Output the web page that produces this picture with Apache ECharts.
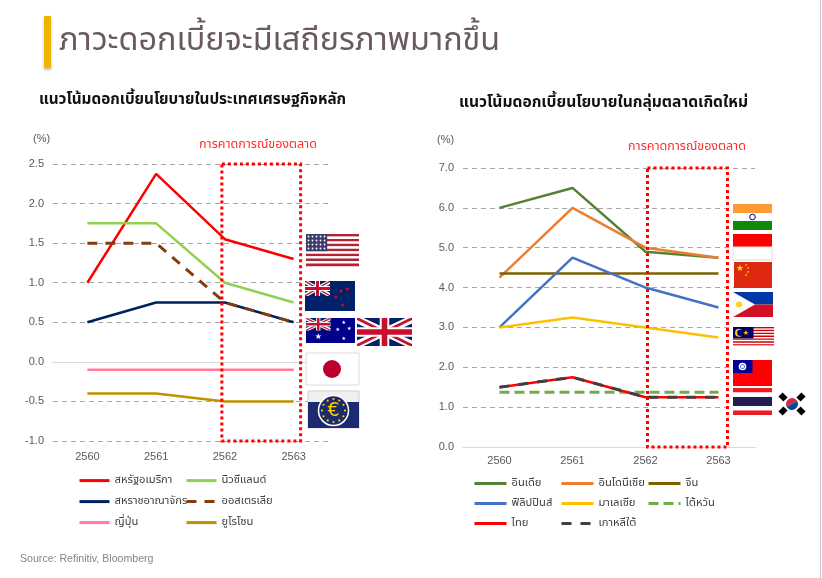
<!DOCTYPE html>
<html lang="th">
<head>
<meta charset="UTF-8">
<title>ภาวะดอกเบี้ยจะมีเสถียรภาพมากขึ้น</title>
<script src="https://cdn.jsdelivr.net/npm/echarts@6/dist/echarts.min.js"></script>
<style>body{margin:0;background:#fff}</style>
</head>
<body>
<div id="main" style="width:822px;height:578px;"></div>
<script type="text/javascript">

    const FONT = "'Noto Sans Thai', 'Noto Sans', Tahoma, sans-serif";

    // years (Thai Buddhist era)
    const years = ['2560', '2561', '2562', '2563'];

    // left chart: major economies
    const usRate = [1.0, 2.375, 1.55, 1.3];
    const nzRate = [1.75, 1.75, 1.0, 0.75];
    const ukRate = [0.5, 0.75, 0.75, 0.5];
    const auRate = [1.5, 1.5, 0.75, 0.5];
    const jpRate = [-0.1, -0.1, -0.1, -0.1];
    const euRate = [-0.4, -0.4, -0.5, -0.5];

    // right chart: emerging markets
    const inRate = [6.0, 6.5, 4.9, 4.75];
    const idRate = [4.25, 6.0, 5.0, 4.75];
    const cnRate = [4.35, 4.35, 4.35, 4.35];
    const phRate = [3.0, 4.75, 4.0, 3.5];
    const myRate = [3.0, 3.25, 3.0, 2.75];
    const twRate = [1.375, 1.375, 1.375, 1.375];
    const thRate = [1.5, 1.75, 1.25, 1.25];
    const krRate = [1.5, 1.75, 1.25, 1.25];

    const leftTicks = [-1, -0.5, 0, 0.5, 1, 1.5, 2, 2.5];
    const rightTicks = [0, 1, 2, 3, 4, 5, 6, 7];

    var myChart = echarts.init(document.getElementById('main'));

    function lineSeries(name, data, color, idx, dash, width, z) {
        return {
            name: name, type: 'line', data: data,
            xAxisIndex: idx, yAxisIndex: idx,
            symbol: 'none', animation: false, z: z || 2,
            lineStyle: { color: color, width: width || 2.5, type: dash || 'solid' },
            itemStyle: { color: color }
        };
    }

    function xAxis(idx, margin) {
        return {
            gridIndex: idx, type: 'category', data: years,
            axisLine: { lineStyle: { color: '#d9d9d9', width: 1 } },
            axisTick: { show: false },
            axisLabel: { color: '#595959', fontSize: 11, margin: margin, fontFamily: 'Liberation Sans' }
        };
    }

    function yAxis(idx, ticks, interval) {
        // the zero line is drawn by the x axis, so its dashed split line is hidden
        const colors = ticks.map(t => t === 0 ? 'rgba(0,0,0,0)' : '#a6a6a6');
        return {
            gridIndex: idx, type: 'value',
            min: ticks[0], max: ticks[ticks.length - 1], interval: interval,
            axisLine: { show: false }, axisTick: { show: false },
            axisLabel: { color: '#595959', fontSize: 11, margin: 9, fontFamily: 'Liberation Sans',
                formatter: v => v.toFixed(1) },
            splitLine: { lineStyle: { color: colors, type: [5, 4], width: 1.2 } }
        };
    }

    // one legend per entry so the columns line up as in the slide
    function legendItem(name, left, top, iw) {
        return {
            left: left, top: top, padding: 0,
            itemWidth: iw, itemHeight: 14, selectedMode: false,
            itemStyle: { opacity: 0 },
            lineStyle: { width: 3 },
            data: [name],
            textStyle: { color: '#404040', fontSize: 11.2, fontFamily: FONT }
        };
    }

    const L = ['สหรัฐอเมริกา', 'นิวซีแลนด์', 'สหราชอาณาจักร', 'ออสเตรเลีย', 'ญี่ปุ่น', 'ยูโรโซน'];
    const R = ['อินเดีย', 'อินโดนีเซีย', 'จีน', 'ฟิลิปปินส์', 'มาเลเซีย', 'ไต้หวัน', 'ไทย', 'เกาหลีใต้'];

    const legends = [];
    L.forEach((n, i) => legends.push(legendItem(n, i % 2 ? 185 : 78, 475 + Math.floor(i / 2) * 21, 30)));
    R.forEach((n, i) => legends.push(legendItem(n, [473, 560, 647][i % 3], 478 + Math.floor(i / 3) * 20, 32)));

    var option = {
        animation: false,
        grid: [
            { left: 53, top: 164, width: 275, height: 277 },
            { left: 463, top: 168, width: 292, height: 279 }
        ],
        xAxis: [xAxis(0, 10), xAxis(1, 8)],
        yAxis: [yAxis(0, leftTicks, 0.5), yAxis(1, rightTicks, 1)],
        legend: legends,
        series: [
            lineSeries(L[0], usRate, '#ff0000', 0),
            lineSeries(L[1], nzRate, '#92d050', 0),
            lineSeries(L[2], ukRate, '#002060', 0),
            lineSeries(L[3], auRate, '#843c0c', 0, [10, 8], 3, 3),
            lineSeries(L[4], jpRate, '#ff7c9c', 0),
            lineSeries(L[5], euRate, '#bf9000', 0),
            lineSeries(R[0], inRate, '#548235', 1),
            lineSeries(R[1], idRate, '#ed7d31', 1),
            lineSeries(R[2], cnRate, '#7f6000', 1),
            lineSeries(R[3], phRate, '#4472c4', 1),
            lineSeries(R[4], myRate, '#ffc000', 1),
            lineSeries(R[5], twRate, '#70ad47', 1, [10, 5], 3),
            lineSeries(R[6], thRate, '#ff0000', 1),
            lineSeries(R[7], krRate, '#404040', 1, [10, 9], 3, 3)
        ]
    };
    myChart.setOption(option);

    // ---- decorations: title, notes, forecast boxes, flags ----
    const g = [];
    function rect(x, y, w, h, fill, extra) {
        g.push({ type: 'rect', silent: true, shape: { x: x, y: y, width: w, height: h },
            style: Object.assign({ fill: fill }, extra || {}), z: 10 });
    }
    function circ(cx, cy, r, fill, extra) {
        g.push({ type: 'circle', silent: true, shape: { cx: cx, cy: cy, r: r },
            style: Object.assign({ fill: fill }, extra || {}), z: 10 });
    }
    function poly(pts, fill) {
        g.push({ type: 'polygon', silent: true, shape: { points: pts }, style: { fill: fill }, z: 10 });
    }
    function text(x, y, s, style) {
        g.push({ type: 'text', silent: true, x: x, y: y, z: 10,
            style: Object.assign({ text: s, fontFamily: FONT, verticalAlign: 'middle' }, style) });
    }
    function star(x, y, size, color) {
        text(x, y, '★', { fill: color, fontSize: size, fontFamily: 'DejaVu Sans', align: 'center' });
    }
    function diag(x, y, w, h, a, b, fill) {
        poly([[x, y], [x + a, y], [x + w, y + h - b], [x + w, y + h], [x + w - a, y + h], [x, y + b]], fill);
        poly([[x + w, y], [x + w - a, y], [x, y + h - b], [x, y + h], [x + a, y + h], [x + w, y + b]], fill);
    }
    function unionJack(x, y, w, h) {
        rect(x, y, w, h, '#012169');
        diag(x, y, w, h, w * 0.12, h * 0.2, '#fff');
        diag(x, y, w, h, w * 0.04, h * 0.07, '#c8102e');
        rect(x + w / 2 - h * 0.17, y, h * 0.34, h, '#fff');
        rect(x, y + h * 0.33, w, h * 0.34, '#fff');
        rect(x + w / 2 - h * 0.1, y, h * 0.2, h, '#c8102e');
        rect(x, y + h * 0.4, w, h * 0.2, '#c8102e');
    }

    // title
    rect(44, 16, 7, 52, '#f0b400', { shadowBlur: 3, shadowColor: 'rgba(0,0,0,0.25)', shadowOffsetY: 2 });
    text(59, 43, 'ภาวะดอกเบี้ยจะมีเสถียรภาพมากขึ้น', { fill: '#6b5a5d', fontSize: 32.4 });
    text(39, 101, 'แนวโน้มดอกเบี้ยนโยบายในประเทศเศรษฐกิจหลัก', { fill: '#111', fontSize: 15.3, fontWeight: 'bold' });
    text(459, 104, 'แนวโน้มดอกเบี้ยนโยบายในกลุ่มตลาดเกิดใหม่', { fill: '#111', fontSize: 15.6, fontWeight: 'bold' });
    text(33, 139, '(%)', { fill: '#595959', fontSize: 11, fontFamily: 'Liberation Sans' });
    text(437, 140, '(%)', { fill: '#595959', fontSize: 11, fontFamily: 'Liberation Sans' });
    text(258, 145, 'การคาดการณ์ของตลาด', { fill: '#ff2d2d', fontSize: 12.5, align: 'center' });
    text(687, 147, 'การคาดการณ์ของตลาด', { fill: '#ff2d2d', fontSize: 12.5, align: 'center' });
    text(20, 559, 'Source: Refinitiv, Bloomberg', { fill: '#8d8089', fontSize: 10.6, fontFamily: 'Liberation Sans' });
    rect(820, 0, 1, 578, '#c8c8c8');

    // forecast boxes around 2562-2563
    function forecastBox(idx, top, bottom, padL, padR) {
        const a = myChart.convertToPixel({ gridIndex: idx }, ['2562', top]);
        const b = myChart.convertToPixel({ gridIndex: idx }, ['2563', bottom]);
        rect(a[0] + padL, a[1], b[0] - a[0] + padR - padL, b[1] - a[1], 'none',
            { stroke: '#ff0000', lineWidth: 3, lineDash: [3, 3] });
    }
    forecastBox(0, 2.5, -1, -3, 7);
    forecastBox(1, 7, 0, 2, 9);

    // flags, left chart
    (function us(x, y, w, h) {
        for (let i = 0; i < 13; i++) rect(x, y + i * h / 13, w, h / 13 + 0.2, i % 2 ? '#fff' : '#b22234');
        rect(x, y, w * 0.4, h * 7 / 13, '#3c3b6e');
        for (let r = 0; r < 4; r++) for (let c = 0; c < 5; c++) circ(x + 2.5 + c * 4, y + 2.5 + r * 4, 0.9, '#fff');
    })(306, 234, 53, 32);

    (function nz(x, y, w, h) {
        rect(x, y, w, h, '#012169');
        unionJack(x, y, w / 2, h / 2);
        star(x + w * 0.72, y + h * 0.35, 6, '#c8102e');
        star(x + w * 0.85, y + h * 0.28, 6, '#c8102e');
        star(x + w * 0.62, y + h * 0.55, 6, '#c8102e');
        star(x + w * 0.75, y + h * 0.82, 6, '#c8102e');
    })(305, 281, 50, 30);

    (function au(x, y, w, h) {
        rect(x, y, w, h, '#00008b');
        unionJack(x, y, w / 2, h / 2);
        star(x + w * 0.25, y + h * 0.75, 8, '#fff');
        star(x + w * 0.77, y + h * 0.2, 5, '#fff');
        star(x + w * 0.65, y + h * 0.45, 5, '#fff');
        star(x + w * 0.88, y + h * 0.42, 5, '#fff');
        star(x + w * 0.77, y + h * 0.82, 5, '#fff');
    })(306, 318, 49, 25);

    unionJack(357, 318, 55, 28);

    rect(306, 353, 53, 32, '#fff', { stroke: '#dcdcdc', lineWidth: 1 });
    circ(332, 369, 9, '#bc002d');

    (function ecb(x, y, w, h) {
        rect(x, y, w, h, '#f0f0f0', { stroke: '#d0d0d0', lineWidth: 1 });
        rect(x, y + h * 0.3, w, h * 0.7, '#1c2a70');
        const cx = x + w / 2, cy = y + h / 2 + 1;
        circ(cx, cy, 15, '#1c2a70', { stroke: '#fff', lineWidth: 1.5 });
        for (let i = 0; i < 12; i++) {
            const t = i * Math.PI / 6;
            circ(cx + 11.5 * Math.cos(t), cy + 11.5 * Math.sin(t), 1.1, '#ffcc00');
        }
        text(cx, cy + 1, '€', { fill: '#ffcc00', fontSize: 19, fontFamily: 'DejaVu Sans', align: 'center' });
    })(308, 391, 51, 37);

    // flags, right chart
    rect(733, 204, 39, 9, '#ff9933'); rect(733, 213, 39, 8, '#fff'); rect(733, 221, 39, 9, '#138808');
    circ(752.5, 217, 2.8, 'none', { stroke: '#000080', lineWidth: 1 });

    rect(733, 234, 39, 13, '#ff0000'); rect(733, 247, 39, 13, '#fff', { stroke: '#ddd', lineWidth: 1 });

    rect(734, 262, 38, 26, '#de2910');
    star(740, 269, 9, '#ffde00');
    star(746, 265, 3.5, '#ffde00'); star(748, 268, 3.5, '#ffde00');
    star(748, 272, 3.5, '#ffde00'); star(746, 275, 3.5, '#ffde00');

    rect(733, 292, 40, 12.5, '#0038a8'); rect(733, 304.5, 40, 12.5, '#ce1126');
    poly([[733, 292], [755, 304.5], [733, 317]], '#fff');
    circ(739, 304.5, 3, '#fcd116');

    (function my(x, y, w, h) {
        for (let i = 0; i < 14; i++) rect(x, y + i * h / 14, w, h / 14 + 0.2, i % 2 ? '#fff' : '#cc0001');
        rect(x, y, w * 0.5, h * 8 / 14, '#010066');
        circ(x + 6, y + 5.8, 4, '#ffcc00');
        circ(x + 7.5, y + 5.8, 3.3, '#010066');
        star(x + 13, y + 6, 7, '#ffcc00');
    })(733, 327, 41, 20);

    rect(733, 360, 39, 26, '#fe0000');
    rect(733, 360, 19.5, 13, '#000095');
    circ(742.5, 366.5, 3.8, '#fff');
    circ(742.5, 366.5, 2.2, '#000095'); circ(742.5, 366.5, 1.7, '#fff');

    rect(733, 388, 39, 4.5, '#ed1c24'); rect(733, 392.5, 39, 4.5, '#fff');
    rect(733, 397, 39, 9, '#241d4f'); rect(733, 406, 39, 4.5, '#fff'); rect(733, 410.5, 39, 4.5, '#ed1c24');

    (function kr(cx, cy) {
        g.push({ type: 'sector', silent: true, z: 10, shape: { cx: cx, cy: cy, r: 6, startAngle: Math.PI * 0.85, endAngle: Math.PI * 1.85 }, style: { fill: '#cd2e3a' } });
        g.push({ type: 'sector', silent: true, z: 10, shape: { cx: cx, cy: cy, r: 6, startAngle: -Math.PI * 0.15, endAngle: Math.PI * 0.85 }, style: { fill: '#0047a0' } });
        [[-9, -7, 0.78], [9, -7, -0.78], [-9, 7, -0.78], [9, 7, 0.78]].forEach(function (p) {
            g.push({ type: 'rect', silent: true, z: 10, x: cx + p[0], y: cy + p[1], rotation: p[2],
                shape: { x: -3, y: -3.5, width: 6, height: 7 }, style: { fill: '#000' } });
        });
    })(792, 404);

    myChart.setOption({ graphic: g });

</script>
</body>
</html>
